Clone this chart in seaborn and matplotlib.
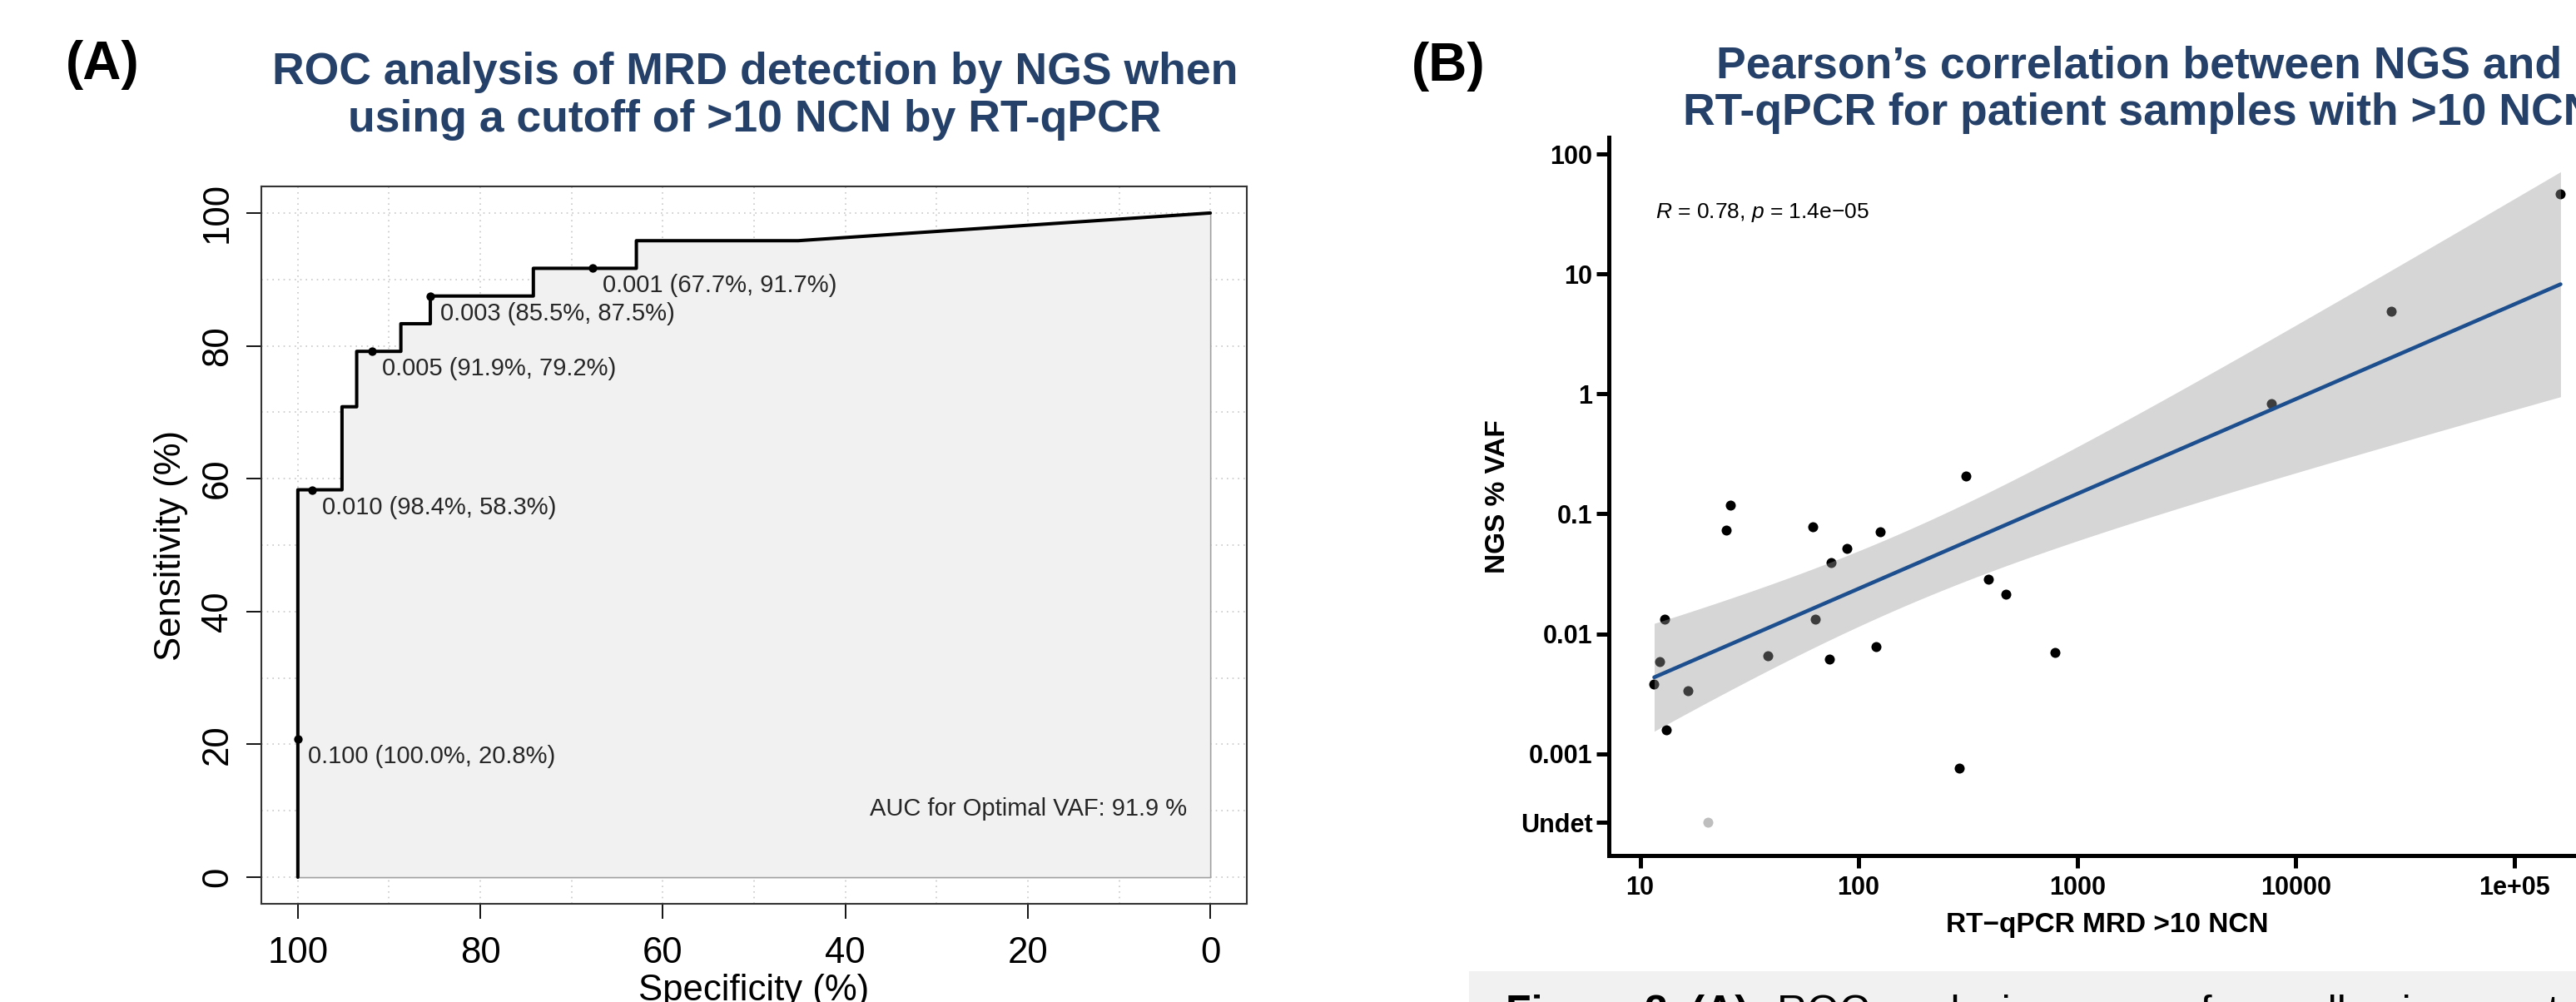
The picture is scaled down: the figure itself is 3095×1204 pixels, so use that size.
import numpy as np
import pandas as pd
import matplotlib
matplotlib.use("Agg")
import matplotlib.pyplot as plt
import seaborn as sns
from matplotlib.patches import Rectangle

# ---------------- Panel A data (ROC curve) ----------------
roc_specificity = [100.0, 100.0, 95.16, 95.16, 93.55, 93.55, 88.71, 88.71,
                   85.48, 85.48, 74.19, 74.19, 62.90, 62.90, 45.16, 0.0]
roc_sensitivity = [0.0, 58.33, 58.33, 70.83, 70.83, 79.17, 79.17, 83.33,
                   83.33, 87.50, 87.50, 91.67, 91.67, 95.83, 95.83, 100.0]
thr_labels = ["0.001", "0.003", "0.005", "0.010", "0.100"]
thr_specificity = [67.7, 85.5, 91.9, 98.4, 100.0]
thr_sensitivity = [91.7, 87.5, 79.2, 58.3, 20.8]
auc_text = "AUC for Optimal VAF: 91.9 %"
specificity_ticks = [100, 80, 60, 40, 20, 0]
sensitivity_ticks = [0, 20, 40, 60, 80, 100]

# ---------------- Panel B data (correlation) ----------------
rtqpcr_ncn = [163000, 27300, 7760, 310, 26.0, 24.7, 61.5, 126, 88, 74.6, 391, 472,
              13.0, 63.6, 119.7, 789, 38.3, 12.3, 73.6, 11.6, 16.6, 13.2, 290]
ngs_vaf = [46.4, 4.9, 0.83, 0.206, 0.119, 0.073, 0.0775, 0.071, 0.0515, 0.039,
           0.0287, 0.0212, 0.0133, 0.0133, 0.00778, 0.00695, 0.00653, 0.00587,
           0.00616, 0.00381, 0.00337, 0.00157, 0.00076]
undet_ncn = [20.4]
undet_value = 0.000267
x_tick_values = [10, 100, 1000, 10000, 100000]
x_tick_labels = ["10", "100", "1000", "10000", "1e+05"]
y_tick_values = [100, 10, 1, 0.1, 0.01, 0.001, undet_value]
y_tick_labels = ["100", "10", "1", "0.1", "0.01", "0.001", "Undet"]
cor_text = r"$R$ = 0.78, $p$ = 1.4e−05"

# ---------------- style ----------------
sns.set_theme(style="ticks")
plt.rcParams["font.family"] = ["Liberation Sans", "DejaVu Sans"]
plt.rcParams["mathtext.fontset"] = "custom"
plt.rcParams["mathtext.rm"] = "Liberation Sans"
plt.rcParams["mathtext.it"] = "Liberation Sans:italic"

W, H = 3095, 1204
fig = plt.figure(figsize=(W / 100, H / 100), dpi=100)
fig.patch.set_facecolor("white")
title_color = "#25416A"

# ================= Panel A =================
axA = fig.add_axes([314 / W, 1 - 1086 / H, 1184 / W, 862 / H])
roc_df = pd.DataFrame({"spec": roc_specificity, "sens": roc_sensitivity})
thr_df = pd.DataFrame({"spec": thr_specificity, "sens": thr_sensitivity, "lab": thr_labels})

axA.fill_between(roc_df["spec"], roc_df["sens"], 0, facecolor="#F1F1F1",
                 edgecolor="#A0A0A0", linewidth=1.2, zorder=1)
sns.lineplot(data=roc_df, x="spec", y="sens", sort=False, estimator=None,
             color="black", linewidth=2.9, ax=axA, zorder=3)
sns.scatterplot(data=thr_df, x="spec", y="sens", color="black", s=55,
                edgecolor="black", linewidth=0, ax=axA, zorder=4)
for lab, sp, se in zip(thr_labels, thr_specificity, thr_sensitivity):
    axA.annotate(f"{lab} ({sp:.1f}%, {se:.1f}%)", (sp, se), xytext=(12, -7),
                 textcoords="offset pixels", ha="left", va="top",
                 fontsize=21, color="#262626", zorder=5)
axA.text(2.6, 10.3, auc_text, ha="right", va="center", fontsize=21, color="#262626")

axA.set_xlim(104, -4)
axA.set_ylim(-4, 104)
axA.set_xticks(specificity_ticks)
axA.set_xticklabels([str(v) for v in specificity_ticks])
axA.set_yticks(sensitivity_ticks)
axA.set_yticklabels([str(v) for v in sensitivity_ticks])
axA.set_xticks(np.arange(0, 101, 10), minor=True)
axA.set_yticks(np.arange(0, 101, 10), minor=True)
axA.grid(which="both", linestyle=(0, (1, 3)), color="#C8C8C8", linewidth=1.2)
axA.set_axisbelow(True)
axA.tick_params(which="minor", length=0)
axA.tick_params(which="major", direction="out", length=13, width=1.3,
                color="black", labelsize=31.5, labelcolor="black")
axA.tick_params(axis="x", pad=15)
axA.tick_params(axis="y", pad=10, labelrotation=90)
for t in axA.get_yticklabels():
    t.set_va("center")
for s in axA.spines.values():
    s.set_visible(True)
    s.set_color("#333333")
    s.set_linewidth(1.5)
axA.set_facecolor("white")
axA.set_xlabel("Specificity (%)", fontsize=31.5, color="black", va="top")
axA.xaxis.set_label_coords(0.5, (1086 - 1170) / 862)
axA.set_ylabel("Sensitivity (%)", fontsize=31.5, color="black", va="center")
axA.yaxis.set_label_coords((206 - 314) / 1184, 0.5)

# ================= Panel B =================
axB = fig.add_axes([1933 / W, 1 - 1028 / H, 1198 / W, 863 / H])
det_df = pd.DataFrame({"lx": np.log10(rtqpcr_ncn), "ly": np.log10(ngs_vaf)})
und_df = pd.DataFrame({"lx": np.log10(undet_ncn), "ly": [np.log10(undet_value)]})

sns.scatterplot(data=det_df, x="lx", y="ly", color="black", s=75, linewidth=0,
                ax=axB, zorder=2)
sns.scatterplot(data=und_df, x="lx", y="ly", color="#BEBEBE", s=75, linewidth=0,
                ax=axB, zorder=2)

# analytic 95% confidence band of the OLS fit (as ggplot geom_smooth lm)
xv = det_df["lx"].to_numpy()
yv = det_df["ly"].to_numpy()
n = len(xv)
slope, intercept = np.polyfit(xv, yv, 1)
resid = yv - (slope * xv + intercept)
s_err = np.sqrt(np.sum(resid ** 2) / (n - 2))
sxx = np.sum((xv - xv.mean()) ** 2)
grid = np.linspace(xv.min(), xv.max(), 200)
fit = slope * grid + intercept
t_crit = 2.0796  # t(0.975, df=21)
half = t_crit * s_err * np.sqrt(1 / n + (grid - xv.mean()) ** 2 / sxx)
axB.fill_between(grid, fit - half, fit + half, facecolor="#999999", alpha=0.4,
                 linewidth=0, zorder=3)
sns.regplot(data=det_df, x="lx", y="ly", scatter=False, ci=None, truncate=True,
            color="#1D4F8F", line_kws=dict(linewidth=3.3, zorder=4), ax=axB)

axB.set_xlim(0.857, 5.42)
axB.set_ylim(-3.849, 2.139)
axB.set_xticks(np.log10(x_tick_values))
axB.set_xticklabels(x_tick_labels)
axB.set_yticks(np.log10(y_tick_values))
axB.set_yticklabels(y_tick_labels)
axB.tick_params(direction="out", length=11, width=3.6, color="black",
                labelsize=22, labelcolor="black")
axB.tick_params(axis="x", pad=6)
axB.tick_params(axis="y", pad=3)
for t in axB.get_xticklabels() + axB.get_yticklabels():
    t.set_fontweight("bold")
axB.spines["top"].set_visible(False)
axB.spines["right"].set_visible(False)
for side in ("left", "bottom"):
    axB.spines[side].set_color("black")
    axB.spines[side].set_linewidth(3.6)
axB.set_facecolor("white")
axB.grid(False)
axB.set_xlabel("RT−qPCR MRD >10 NCN", fontsize=24, fontweight="bold", color="black", va="top")
axB.xaxis.set_label_coords(0.5, (1028 - 1096) / 863)
axB.set_ylabel("NGS % VAF", fontsize=24, fontweight="bold", color="black", va="center")
axB.yaxis.set_label_coords((1800 - 1933) / 1198, 0.5)
axB.text(1.072, 1.513, cor_text, ha="left", va="center", fontsize=19, color="black")

# ================= Titles / panel letters =================
fig.text(79 / W, 1 - 95 / H, "(A)", fontsize=46, fontweight="bold", color="black",
         ha="left", va="baseline")
fig.text(907 / W, 1 - 101 / H, "ROC analysis of MRD detection by NGS when",
         fontsize=38.5, fontweight="bold", color=title_color, ha="center", va="baseline")
fig.text(907 / W, 1 - 158 / H, "using a cutoff of >10 NCN by RT-qPCR",
         fontsize=38.5, fontweight="bold", color=title_color, ha="center", va="baseline")

fig.text(1696 / W, 1 - 97 / H, "(B)", fontsize=46, fontweight="bold", color="black",
         ha="left", va="baseline")
fig.text(2570 / W, 1 - 93 / H, "Pearson’s correlation between NGS and",
         fontsize=38.5, fontweight="bold", color=title_color, ha="center", va="baseline")
fig.text(2570 / W, 1 - 150 / H, "RT-qPCR for patient samples with >10 NCN",
         fontsize=38.5, fontweight="bold", color=title_color, ha="center", va="baseline")

# ================= caption box (cut off at bottom) =================
fig.patches.append(Rectangle((1765 / W, 0), 1.0, 1 - 1167 / H, transform=fig.transFigure,
                             facecolor="#F1F1F1", edgecolor="none", zorder=0))
fig.text(1809 / W, 1 - 1231 / H, "Figure 2. (A)", fontsize=36, fontweight="bold",
         color="black", ha="left", va="baseline")
fig.text(2135 / W, 1 - 1231 / H, "ROC analysis curves of overall using a cutoff",
         fontsize=36, color="black", ha="left", va="baseline")

fig.savefig("out.png", dpi=100, facecolor="white")
